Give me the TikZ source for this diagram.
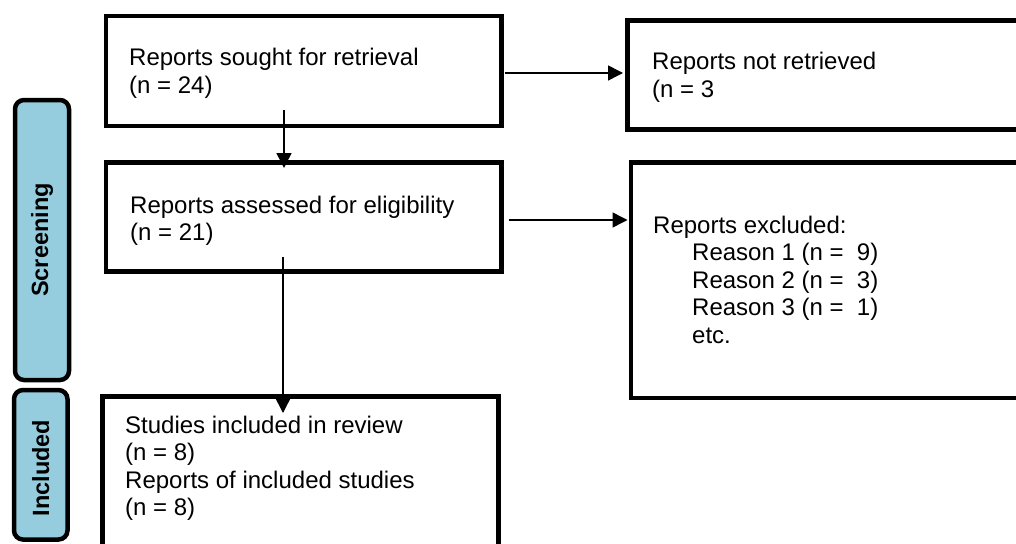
\documentclass[tikz,border=0pt]{standalone}
\usepackage{fontspec}
\setmainfont{Liberation Sans}
\usetikzlibrary{arrows.meta}
\definecolor{labelblue}{RGB}{150,205,222}
\tikzset{
  box/.style={draw=black, line width=4.5pt, rectangle, inner sep=0pt, outer sep=0pt},
  sidelabel/.style={draw=black, fill=labelblue, line width=4.5pt, rounded corners=9pt, rectangle, inner sep=0pt, outer sep=0pt},
  txt/.style={anchor=base west, inner sep=0pt, font=\fontsize{24}{27.5}\selectfont},
  labtxt/.style={rotate=90, inner sep=0pt, font=\fontsize{23.5}{27}\selectfont\bfseries},
  arr/.style={draw=black, line width=1.5pt, -{Triangle[length=15pt,width=15pt]}}
}
\begin{document}
\begin{tikzpicture}[x=1pt,y=-1pt]
\useasboundingbox (0,0) rectangle (1016,543);
\clip (0,0) rectangle (1016,543);
\fill[white] (0,0) rectangle (1016,543);
% side labels
\node[sidelabel, minimum width=54pt, minimum height=280pt] (lscreen) at (42,240) {};
\node[labtxt] (tscreen) at (lscreen.center) {Screening};
\node[sidelabel, minimum width=53.5pt, minimum height=149.5pt] (lincl) at (40.75,464.75) {};
\node[labtxt] (tincl) at (40.75,468) {Included};
% boxes
\node[box, minimum width=395.5pt, minimum height=110pt] (b1) at (303.75,71) {};
\node[box, minimum width=395.5pt, minimum height=109pt] (b2) at (303.75,217) {};
\node[box, minimum width=420pt, minimum height=109pt] (b3) at (837.5,75) {};
\node[box, minimum width=420pt, minimum height=235.5pt] (b5) at (841,280.25) {};
\node[box, minimum width=396pt, minimum height=180pt] (b4) at (300.5,486.5) {};
% texts
\node[txt] (t1) at (129,66) {\vtop{\hbox{Reports sought for retrieval}\hbox{(n = 24)}}};
\node[txt] (t2) at (130,213) {\vtop{\hbox{Reports assessed for eligibility}\hbox{(n = 21)}}};
\node[txt] (t3) at (652,70) {\vtop{\hbox{Reports not retrieved}\hbox{(n = 3}}};
\node[txt] (t5) at (653,233) {\vtop{\hbox{Reports excluded:}\hbox{\kern39pt Reason 1 (n =\ \ 9)}\hbox{\kern39pt Reason 2 (n =\ \ 3)}\hbox{\kern39pt Reason 3 (n =\ \ 1)}\hbox{\kern39pt etc.}}};
\node[txt] (t4) at (125,433) {\vtop{\hbox{Studies included in review}\hbox{(n = 8)}\hbox{Reports of included studies}\hbox{(n = 8)}}};
% connector coordinates
\coordinate (s12) at (284,110);
\coordinate (e12) at (284,168);
\coordinate (s24) at (283,257);
\coordinate (e24) at (283,413);
\coordinate (y13) at (0,73);
\coordinate (y25) at (0,220);
% connectors
\draw[arr] (s12) -- (e12);
\draw[arr] (s24) -- (e24);
\draw[arr, shorten <=3pt, shorten >=4.5pt] (b1.east |- y13) -- (b3.west |- y13);
\draw[arr, shorten <=7pt, shorten >=3.5pt] (b2.east |- y25) -- (b5.west |- y25);
\end{tikzpicture}
\end{document}
